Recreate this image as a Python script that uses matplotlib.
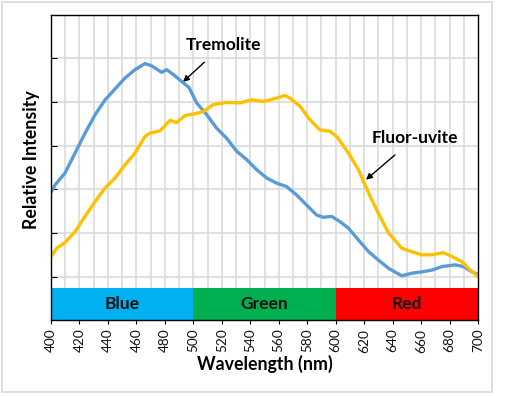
import matplotlib
matplotlib.use("Agg")
import matplotlib.pyplot as plt
from matplotlib.patches import Rectangle

plt.rcParams['font.family'] = ['Lato', 'DejaVu Sans']

# Tremolite (blue)
trem_wl = [400, 402.8, 409.8, 419.2, 424, 431, 438, 445, 452, 459, 466, 470.7, 477.7, 481.3,
           486, 491.8, 497, 502.3, 509.4, 516.4, 523.4, 530.5, 537.5, 544.5, 551.5, 558.6,
           565.6, 572.6, 579.6, 586.7, 591.4, 597.2, 603, 609, 616, 623.2, 630, 637.2,
           646.5, 653.6, 660.6, 667.6, 674.6, 684, 689.9, 695.7, 700]
trem_val = [2.93, 3.10, 3.37, 3.98, 4.29, 4.71, 5.05, 5.30, 5.55, 5.74, 5.88, 5.83, 5.68, 5.74,
            5.63, 5.47, 5.33, 4.98, 4.71, 4.40, 4.17, 3.87, 3.68, 3.45, 3.26, 3.14,
            3.06, 2.87, 2.64, 2.41, 2.36, 2.38, 2.26, 2.11, 1.84, 1.57, 1.38, 1.19,
            1.02, 1.08, 1.11, 1.15, 1.23, 1.27, 1.23, 1.11, 1.05]

# Fluor-uvite (yellow)
uv_wl = [400, 404, 409.8, 416.9, 423.9, 431, 438, 445, 452, 459, 466, 469.6, 476.6, 483.6,
         488.3, 494.2, 501, 507, 514, 523.4, 532.8, 541, 549, 558.6, 564.4, 567.9, 575,
         582, 589, 596, 601, 609, 616, 623.2, 630, 637.2, 646.5, 653.6, 660.6, 667.6,
         675.8, 681.7, 688.7, 694.6, 700]
uv_val = [1.46, 1.65, 1.78, 2.03, 2.38, 2.72, 3.03, 3.26, 3.56, 3.83, 4.21, 4.29, 4.34, 4.58,
          4.53, 4.69, 4.73, 4.78, 4.94, 4.99, 4.98, 5.05, 5.01, 5.09, 5.15, 5.09, 4.90,
          4.59, 4.36, 4.33, 4.20, 3.83, 3.45, 2.91, 2.45, 2.00, 1.65, 1.57, 1.50, 1.50,
          1.55, 1.46, 1.34, 1.15, 1.00]

bands = ["Blue", "Green", "Red"]
band_starts = [400, 500, 600]
band_ends = [500, 600, 700]
band_colors = ["#00B0F0", "#00B050", "#FF0000"]

xticks = list(range(400, 701, 20))

W, H = 531, 396
fig = plt.figure(figsize=(W / 100, H / 100), dpi=100)
# outer chart border
fig.patches.append(Rectangle((2/W, 1 - 392/H), 490/W, 390/H, transform=fig.transFigure,
                             fill=False, edgecolor="#D9D9D9", linewidth=1.2))

ax = fig.add_axes([51/W, 1 - 320.3/H, 427/W, 305.6/H])
ax.set_xlim(400, 700)
ax.set_ylim(0, 7)

# grid
for x in range(410, 700, 10):
    ax.axvline(x, color="#D9D9D9", lw=1.1, zorder=0)
for y in range(1, 7):
    ax.axhline(y, color="#D9D9D9", lw=1.1, zorder=0)

bar_h = 0.75
for name, s, e, c in zip(bands, band_starts, band_ends, band_colors):
    ax.add_patch(Rectangle((s, 0), e - s, bar_h, facecolor=c, edgecolor="none", zorder=2))
    ax.text((s + e) / 2, bar_h / 2, name, ha="center", va="center", fontsize=12.5,
            fontweight="bold", color="#111111", zorder=3)

ax.plot(trem_wl, trem_val, color="#5B9BD5", lw=2.4, zorder=4, solid_joinstyle="round")
ax.plot(uv_wl, uv_val, color="#FFC000", lw=2.4, zorder=4, solid_joinstyle="round")

ax.annotate("Tremolite", xy=(492.7, 5.46), xytext=(521, 6.31), ha="center", va="center",
            fontsize=12.5, fontweight="bold", color="black",
            arrowprops=dict(arrowstyle="-|>", color="black", lw=1.0, mutation_scale=9,
                            shrinkA=7, shrinkB=0))
ax.annotate("Fluor-uvite", xy=(621.3, 3.22), xytext=(655.7, 4.18), ha="center", va="center",
            fontsize=12.5, fontweight="bold", color="black",
            arrowprops=dict(arrowstyle="-|>", color="black", lw=1.0, mutation_scale=9,
                            shrinkA=7, shrinkB=0))

ax.set_xticks(xticks)
ax.set_xticklabels([str(t) for t in xticks], rotation=90, fontsize=9.8, color="#111111")
ax.set_yticks(range(1, 7))
ax.set_yticklabels([])
ax.tick_params(axis="y", direction="in", length=4, width=0.8, color="black")
ax.tick_params(axis="x", direction="out", length=3, width=0.8, color="black", pad=3)
for sp in ax.spines.values():
    sp.set_color("black")
    sp.set_linewidth(1.0)
    sp.set_zorder(5)

fig.text(264.5/W, 1 - 364/H, "Wavelength (nm)", ha="center", va="center",
         fontsize=12.8, fontweight="bold")
fig.text(32/W, 1 - 160/H, "Relative Intensity", ha="center", va="center", rotation=90,
         fontsize=12.8, fontweight="bold")

fig.savefig("out.png", dpi=100, facecolor="white")
